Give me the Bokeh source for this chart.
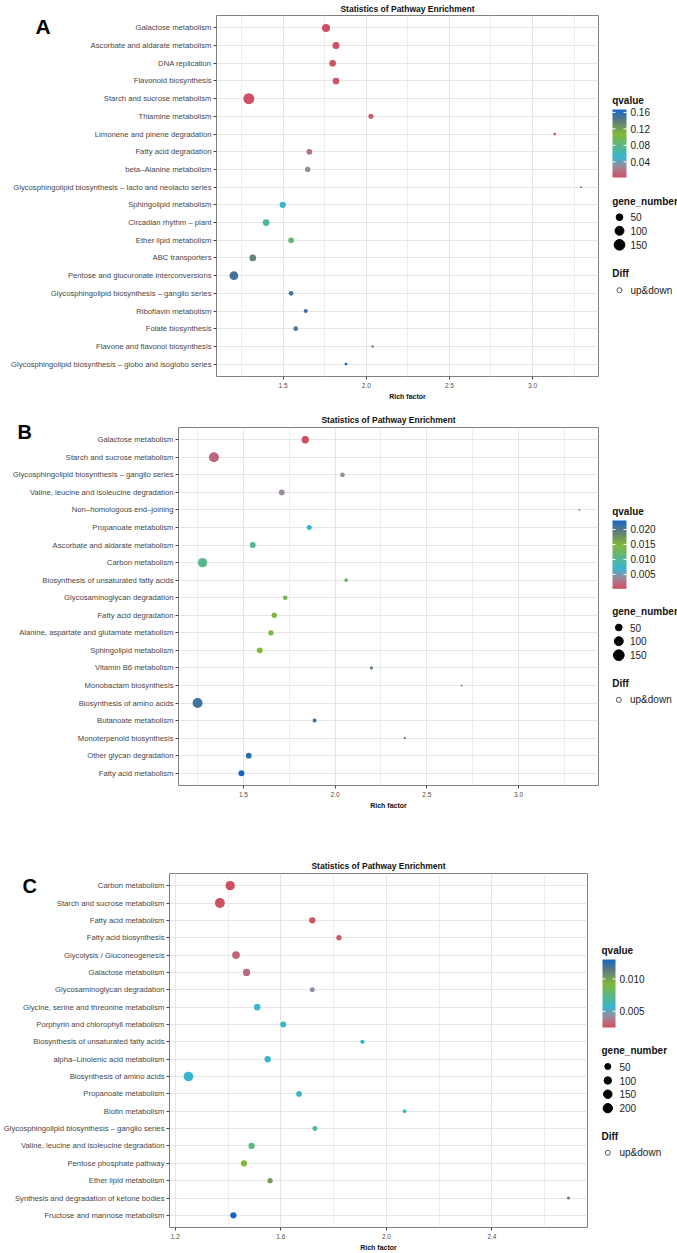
import numpy as np
from bokeh.plotting import figure
from bokeh.models import (ColumnDataSource, FactorRange, Range1d, FixedTicker,
                          LinearColorMapper, PrintfTickFormatter, GridBox)
from bokeh.layouts import column, row
from bokeh.embed import file_html
from bokeh.resources import INLINE
from bokeh.core.properties import value

FONT = "Liberation Sans"

# ---------------- Panel A ----------------
A_pathways = [
    "Galactose metabolism",
    "Ascorbate and aldarate metabolism",
    "DNA replication",
    "Flavonoid biosynthesis",
    "Starch and sucrose metabolism",
    "Thiamine metabolism",
    "Limonene and pinene degradation",
    "Fatty acid degradation",
    "beta\u2013Alanine metabolism",
    "Glycosphingolipid biosynthesis \u2013 lacto and neolacto series",
    "Sphingolipid metabolism",
    "Circadian rhythm \u2013 plant",
    "Ether lipid metabolism",
    "ABC transporters",
    "Pentose and glucuronate interconversions",
    "Glycosphingolipid biosynthesis \u2013 ganglio series",
    "Riboflavin metabolism",
    "Folate biosynthesis",
    "Flavone and flavonol biosynthesis",
    "Glycosphingolipid biosynthesis \u2013 globo and isoglobo series",
]
A_rich = [1.758, 1.818, 1.798, 1.818, 1.294, 2.028, 3.133, 1.658, 1.648, 3.292,
          1.498, 1.398, 1.548, 1.318, 1.204, 1.548, 1.636, 1.576, 2.038, 1.878]
A_genes = [77, 56, 50, 50, 160, 24, 4, 33, 28, 1,
           43, 50, 33, 50, 93, 20, 13, 20, 2, 5]
A_qvalue = [0.002, 0.003, 0.004, 0.005, 0.003, 0.008, 0.010, 0.017, 0.028, 0.140,
            0.050, 0.070, 0.083, 0.135, 0.150, 0.150, 0.155, 0.147, 0.145, 0.167]
A_x_ticks = [1.5, 2.0, 2.5, 3.0]
A_x_minor = [1.25, 1.75, 2.25, 2.75, 3.25]
A_q_ticks = [0.04, 0.08, 0.12, 0.16]
A_size_breaks = [50, 100, 150]

# ---------------- Panel B ----------------
B_pathways = [
    "Galactose metabolism",
    "Starch and sucrose metabolism",
    "Glycosphingolipid biosynthesis \u2013 ganglio series",
    "Valine, leucine and isoleucine degradation",
    "Non\u2013homologous end\u2013joining",
    "Propanoate metabolism",
    "Ascorbate and aldarate metabolism",
    "Carbon metabolism",
    "Biosynthesis of unsaturated fatty acids",
    "Glycosaminoglycan degradation",
    "Fatty acid degradation",
    "Alanine, aspartate and glutamate metabolism",
    "Sphingolipid metabolism",
    "Vitamin B6 metabolism",
    "Monobactam biosynthesis",
    "Biosynthesis of amino acids",
    "Butanoate metabolism",
    "Monoterpenoid biosynthesis",
    "Other glycan degradation",
    "Fatty acid metabolism",
]
B_rich = [1.837, 1.339, 2.040, 1.709, 3.332, 1.859, 1.551, 1.277, 2.060, 1.728,
          1.668, 1.650, 1.589, 2.198, 2.690, 1.250, 1.888, 2.380, 1.529, 1.489]
B_genes = [62, 129, 20, 33, 1, 24, 38, 109, 10, 20,
           28, 28, 38, 7, 1, 129, 13, 2, 33, 38]
B_qvalue = [0.0002, 0.0018, 0.0040, 0.0037, 0.0042, 0.0069, 0.0099, 0.0104, 0.0127, 0.0138,
            0.0143, 0.0140, 0.0147, 0.0180, 0.0184, 0.0207, 0.0212, 0.0202, 0.0216, 0.0230]
B_x_ticks = [1.5, 2.0, 2.5, 3.0]
B_x_minor = [1.25, 1.75, 2.25, 2.75, 3.25]
B_q_ticks = [0.005, 0.010, 0.015, 0.020]
B_size_breaks = [50, 100, 150]

# ---------------- Panel C ----------------
C_pathways = [
    "Carbon metabolism",
    "Starch and sucrose metabolism",
    "Fatty acid metabolism",
    "Fatty acid biosynthesis",
    "Glycolysis / Gluconeogenesis",
    "Galactose metabolism",
    "Glycosaminoglycan degradation",
    "Glycine, serine and threonine metabolism",
    "Porphyrin and chlorophyll metabolism",
    "Biosynthesis of unsaturated fatty acids",
    "alpha\u2013Linolenic acid metabolism",
    "Biosynthesis of amino acids",
    "Propanoate metabolism",
    "Biotin metabolism",
    "Glycosphingolipid biosynthesis \u2013 ganglio series",
    "Valine, leucine and isoleucine degradation",
    "Pentose phosphate pathway",
    "Ether lipid metabolism",
    "Synthesis and degradation of ketone bodies",
    "Fructose and mannose metabolism",
]
C_rich = [1.408, 1.369, 1.719, 1.820, 1.430, 1.470, 1.719, 1.510, 1.609, 1.909,
          1.550, 1.250, 1.669, 2.069, 1.729, 1.489, 1.460, 1.559, 2.690, 1.420]
C_genes = [200, 240, 60, 31, 114, 97, 24, 73, 50, 12,
           60, 224, 41, 5, 24, 60, 60, 31, 1, 60]
C_qvalue = [0.0025, 0.0026, 0.0027, 0.0028, 0.0030, 0.0034, 0.0043, 0.0057, 0.0057, 0.0058,
            0.0059, 0.0057, 0.0060, 0.0063, 0.0069, 0.0075, 0.0092, 0.0101, 0.0111, 0.0130]
C_x_ticks = [1.2, 1.6, 2.0, 2.4]
C_x_minor = [1.4, 1.8, 2.2, 2.6]
C_q_ticks = [0.005, 0.010]
C_size_breaks = [50, 100, 150, 200]

# qvalue colour gradient (low -> high)
Q_STOPS = [0.0, 0.15, 0.30, 0.64, 0.84, 1.0]
Q_COLORS = ["#CF4F60", "#A0879A", "#38B5D0", "#82B83A", "#5E7A80", "#1467C3"]


def gradient(stops, colors, n=256):
    rgb = np.array([[int(c[i:i + 2], 16) for i in (1, 3, 5)] for c in colors], float)
    t = np.linspace(0, 1, n)
    chans = [np.interp(t, stops, rgb[:, k]) for k in range(3)]
    return ["#%02x%02x%02x" % tuple(int(round(v)) for v in px) for px in zip(*chans)]


PALETTE = gradient(Q_STOPS, Q_COLORS)
PAGE_W = 677


def bare_figure(width, height, x_range, y_range, fill="white"):
    f = figure(width=width, height=height, output_backend="svg", toolbar_location=None,
               title=None, x_range=x_range, y_range=y_range,
               x_axis_type=None, y_axis_type=None, frame_align=False,
               min_border_left=0, min_border_right=0, min_border_top=0, min_border_bottom=0)
    f.grid.visible = False
    f.outline_line_color = None
    f.background_fill_color = fill
    f.border_fill_color = fill
    return f


def build_panel(letter, pathways, rich, genes, qvals, x_ticks, x_minor,
                q_ticks, q_fmt, size_breaks, lay):
    top, H, W = lay["top"], lay["height"], lay["main_width"]
    a, b = lay["size_a"], lay["size_b"]

    def dot(n):
        return a + b * np.sqrt(n)

    lo, hi = min(rich), max(rich)
    pad = (hi - lo) * 0.05
    qlo, qhi = min(qvals), max(qvals)
    mapper = LinearColorMapper(palette=PALETTE, low=qlo, high=qhi)
    src = ColumnDataSource(dict(pathway=pathways, rich=rich, genes=genes, q=qvals,
                                size=[dot(g) for g in genes]))

    p = figure(width=W, height=H, output_backend="svg", toolbar_location=None,
               x_range=Range1d(lo - pad, hi + pad),
               y_range=FactorRange(factors=pathways[::-1], range_padding=0.2,
                                   range_padding_units="absolute"),
               frame_align=False,
               min_border_left=lay["bl"], min_border_right=1,
               min_border_top=lay["bt"], min_border_bottom=lay["bb"],
               title="Statistics of Pathway Enrichment")
    p.scatter("rich", "pathway", size="size", source=src,
              fill_color={"field": "q", "transform": mapper}, line_color=None)

    p.title.align = "center"
    p.title.text_font = FONT
    p.title.text_font_size = "8.5px"
    p.title.text_font_style = "bold"
    p.title.text_color = "#111111"
    p.title.standoff = lay["title_gap"]

    p.background_fill_color = "white"
    p.border_fill_color = "white"
    p.outline_line_color = "#808080"
    p.outline_line_width = 1

    p.xaxis.ticker = FixedTicker(ticks=x_ticks, minor_ticks=x_minor)
    p.xaxis.formatter = PrintfTickFormatter(format="%.1f")
    p.xaxis.axis_label = "Rich factor"
    p.xaxis.axis_label_text_font = FONT
    p.xaxis.axis_label_text_font_size = "7px"
    p.xaxis.axis_label_text_font_style = "bold"
    p.xaxis.axis_label_text_color = "#111111"
    p.xaxis.axis_label_standoff = 2
    p.xaxis.major_label_text_font = FONT
    p.xaxis.major_label_text_font_size = "6.5px"
    p.xaxis.major_label_text_color = "#4d4d4d"
    p.xaxis.major_label_standoff = 2
    p.xaxis.minor_tick_line_color = None

    p.yaxis.major_label_text_font = FONT
    p.yaxis.major_label_text_font_size = "7.7px"
    p.yaxis.major_label_text_color = "#474747"
    p.yaxis.major_label_standoff = 2

    for ax in (p.xaxis, p.yaxis):
        ax.axis_line_color = None
        ax.major_tick_line_color = "#444444"
        ax.major_tick_out = 3
        ax.major_tick_in = 0

    p.xgrid.grid_line_color = "#e6e6e6"
    p.xgrid.minor_grid_line_color = "#eeeeee"
    p.ygrid.grid_line_color = "#e6e6e6"

    # legend column on the right (data units = page pixels, y downwards)
    lg = bare_figure(PAGE_W - W, H, Range1d(W, PAGE_W), Range1d(top + H, top))

    # colour bar: a second y range in qvalue units so the bar spans qlo..qhi
    bar_top = lay["cb_top"]
    bar_h = lay["cb_h"]
    bar_bottom = bar_top + bar_h
    span = qhi - qlo
    lg.extra_y_ranges = {"q": Range1d(start=qlo - (top + H - bar_bottom) / bar_h * span,
                                      end=qlo + (bar_bottom - top) / bar_h * span)}
    lg.image(image=[np.linspace(qlo, qhi, 256).reshape(-1, 1)], x=lay["cb_x"], y=qlo,
             dw=lay["cb_w"], dh=span, color_mapper=mapper, y_range_name="q")
    k = len(q_ticks)
    cx0, cx1 = lay["cb_x"], lay["cb_x"] + lay["cb_w"]
    lg.segment(x0=[cx0] * k, y0=q_ticks, x1=[cx0 + 3] * k, y1=q_ticks,
               line_color="white", line_width=1, y_range_name="q")
    lg.segment(x0=[cx1 - 3] * k, y0=q_ticks, x1=[cx1] * k, y1=q_ticks,
               line_color="white", line_width=1, y_range_name="q")

    tx = dict(text_font=value(FONT), text_font_size="10px", text_baseline="middle")
    lg.text(x=[cx1 + 4] * k, y=q_ticks, text=[q_fmt % t for t in q_ticks],
            text_color="#222222", y_range_name="q", **tx)
    lg.text(x=[lay["leg_x"]], y=[lay["qv_y"]], text=["qvalue"],
            text_font_style="bold", text_color="#111111", **tx)

    lg.text(x=[lay["leg_x"]], y=[lay["gn_y"]], text=["gene_number"],
            text_font_style="bold", text_color="#111111", **tx)
    n = len(size_breaks)
    lg.scatter(x=[lay["key_x"]] * n, y=lay["gn_rows"], size=[dot(s) for s in size_breaks],
               color="black")
    lg.text(x=[lay["lab_x"]] * n, y=lay["gn_rows"], text=[str(s) for s in size_breaks],
            text_color="#222222", **tx)

    lg.text(x=[lay["leg_x"]], y=[lay["diff_y"]], text=["Diff"],
            text_font_style="bold", text_color="#111111", **tx)
    lg.scatter(x=[lay["key_x"]], y=[lay["diff_key_y"]], size=5, fill_color=None,
               line_color="#555555", line_width=1)
    lg.text(x=[lay["lab_x"]], y=[lay["diff_key_y"]], text=["up&down"],
            text_color="#222222", **tx)

    # panel letter on a small transparent canvas laid over the top-left corner
    LW, LH = 70, 64
    tag = bare_figure(LW, LH, Range1d(0, LW), Range1d(LH, 0), fill=None)
    tag.text(x=[lay["letter_x"]], y=[lay["letter_y"] - top], text=[letter],
             text_font=value(FONT), text_font_size=lay["letter_size"],
             text_font_style="bold", text_color="black", text_baseline="alphabetic")

    return GridBox(children=[(row(p, lg), 0, 0), (tag, 0, 0)])


LAY_A = dict(top=0, height=410, main_width=599, bl=216, bt=15, bb=34, title_gap=3,
             size_a=1.24, size_b=0.772, letter_x=35, letter_y=26, letter_size="21px",
             cb_x=612, cb_top=109, cb_w=14, cb_h=68, qv_y=100,
             leg_x=611.7, gn_y=200.7, gn_rows=[216.7, 230.3, 244.3], key_x=619, lab_x=630,
             diff_y=273.3, diff_key_y=289.7)
LAY_B = dict(top=410, height=430, main_width=599, bl=178, bt=17, bb=55, title_gap=5,
             size_a=1.24, size_b=0.772, letter_x=17, letter_y=431, letter_size="20px",
             cb_x=612, cb_top=520, cb_w=14, cb_h=68.3, qv_y=511,
             leg_x=611.7, gn_y=611, gn_rows=[627, 640.7, 654.7], key_x=618.3, lab_x=629.5,
             diff_y=683.3, diff_key_y=699.3)
LAY_C = dict(top=840, height=413, main_width=588, bl=167, bt=33, bb=23, title_gap=6,
             size_a=2.7, size_b=0.467, letter_x=22, letter_y=885, letter_size="20px",
             cb_x=602, cb_top=959, cb_w=13, cb_h=68, qv_y=950.3,
             leg_x=601, gn_y=1050.3, gn_rows=[1066, 1080, 1093.7, 1107.7], key_x=607.3, lab_x=619,
             diff_y=1136, diff_key_y=1152.3)

panel_a = build_panel("A", A_pathways, A_rich, A_genes, A_qvalue, A_x_ticks, A_x_minor,
                      A_q_ticks, "%.2f", A_size_breaks, LAY_A)
panel_b = build_panel("B", B_pathways, B_rich, B_genes, B_qvalue, B_x_ticks, B_x_minor,
                      B_q_ticks, "%.3f", B_size_breaks, LAY_B)
panel_c = build_panel("C", C_pathways, C_rich, C_genes, C_qvalue, C_x_ticks, C_x_minor,
                      C_q_ticks, "%.3f", C_size_breaks, LAY_C)

layout = column(panel_a, panel_b, panel_c)
open("out.html", "w").write(file_html(layout, INLINE))
